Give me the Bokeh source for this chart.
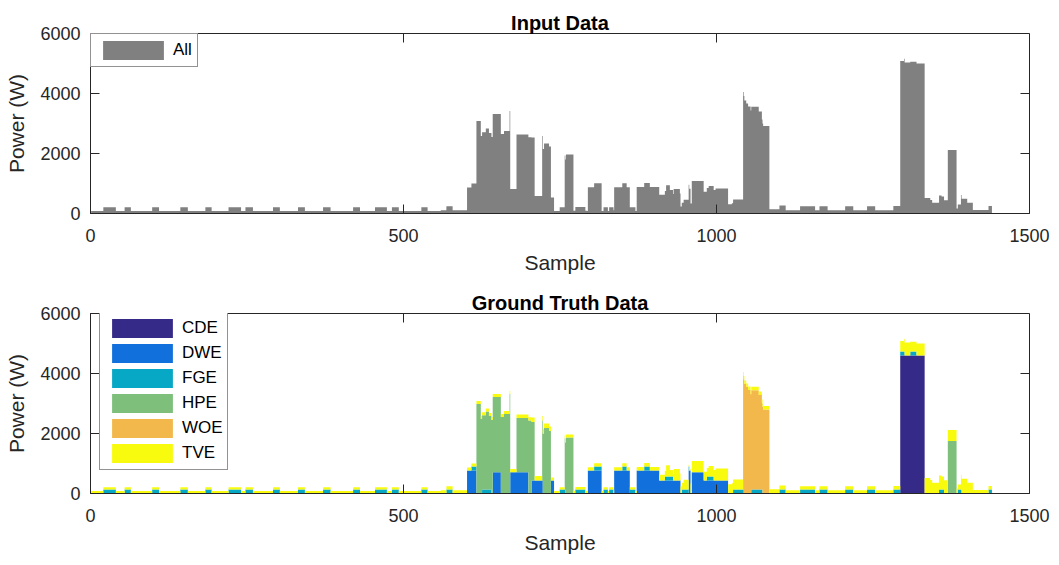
import numpy as np
from bokeh.plotting import figure
from bokeh.layouts import column
from bokeh.models import (ColumnDataSource, Range1d, FixedTicker, Legend, LegendItem,
                          LinearAxis)
from bokeh.transform import stack
from bokeh.embed import file_html
from bokeh.resources import INLINE

N_SAMPLES = 1440
X_TICKS = [0, 500, 1000, 1500]
Y_TICKS = [0, 2000, 4000, 6000]

APPLIANCES = ["CDE", "DWE", "FGE", "HPE", "WOE", "TVE"]
COLORS = ["#352a87", "#1170dc", "#07a7c6", "#7dbf7b", "#f2b84b", "#f9fb0e"]
ALL_COLOR = "#808080"

# Appliance power as runs: (first sample, sample after the last, watts)
cde_segments = [(1294, 1333, 4600)]

dwe_segments = [(602, 617, 766), (643, 656, 710), (671, 700, 710), (705, 723, 433),
                (736, 741, 433), (795, 817, 766), (837, 862, 766), (873, 909, 766),
                (909, 943, 433), (956, 959, 766), (961, 980, 710), (980, 1019, 433)]

fge_segments = [(21, 41, 130), (55, 65, 130), (99, 110, 130), (144, 156, 130),
                (184, 194, 130), (221, 241, 130), (248, 260, 130), (292, 303, 130),
                (332, 343, 130), (372, 384, 130), (420, 431, 130), (455, 474, 130),
                (482, 493, 130), (529, 539, 130), (569, 579, 130), (609, 617, 130),
                (626, 641, 130), (750, 759, 130), (775, 791, 130), (805, 817, 130),
                (820, 827, 130), (829, 836, 130), (850, 857, 130), (862, 871, 130),
                (885, 894, 130), (918, 931, 130), (945, 957, 130), (985, 996, 130),
                (1027, 1044, 130), (1056, 1074, 130), (1101, 1111, 130),
                (1134, 1158, 130), (1165, 1178, 130), (1206, 1219, 130),
                (1241, 1254, 130), (1283, 1301, 130), (1310, 1320, 130),
                (1356, 1364, 130), (1386, 1392, 130), (1435, 1441, 130)]

hpe_segments = [(617, 624, 2980), (624, 632, 2480), (632, 637, 2600), (637, 643, 2450),
                (643, 656, 2510), (656, 661, 2550), (661, 670, 2650), (670, 671, 3320),
                (681, 700, 1810), (700, 705, 2430), (705, 710, 1950), (722, 725, 2000),
                (725, 733, 2180), (733, 736, 2080), (758, 760, 1700), (760, 772, 1870),
                (1370, 1384, 1750)]

woe_segments = [(1043, 1045, 3800), (1045, 1048, 3650), (1048, 1051, 3550),
                (1051, 1055, 3450), (1055, 1068, 3310), (1068, 1073, 3150),
                (1073, 1075, 2880), (1075, 1085, 2800)]

# standby level first, then the periods where the set draws more
tve_segments = [(1, 1441, 80), (560, 602, 110), (602, 617, 100), (617, 671, 100),
                (671, 705, 110), (705, 736, 150), (736, 741, 100), (758, 772, 100),
                (772, 794, 90), (795, 817, 110), (836, 862, 110), (873, 909, 120),
                (909, 920, 190), (920, 926, 380), (926, 932, 220), (932, 942, 380),
                (942, 948, 230), (948, 956, 330), (956, 959, 60), (959, 961, 330),
                (961, 980, 370), (980, 988, 290), (988, 999, 350), (999, 1019, 400),
                (1019, 1025, 310), (1025, 1043, 340), (1043, 1085, 120),
                (1085, 1111, 140), (1111, 1283, 110), (1283, 1294, 120),
                (1294, 1300, 350), (1300, 1310, 430), (1310, 1320, 330),
                (1320, 1333, 400), (1333, 1342, 520), (1342, 1345, 450),
                (1345, 1356, 360), (1356, 1360, 470), (1360, 1370, 440),
                (1370, 1384, 370), (1384, 1391, 170), (1391, 1401, 490),
                (1401, 1410, 360), (1410, 1441, 120)]

SEGMENTS = {"CDE": cde_segments, "DWE": dwe_segments, "FGE": fge_segments,
            "HPE": hpe_segments, "WOE": woe_segments, "TVE": tve_segments}


def expand(segments):
    watts = np.zeros(N_SAMPLES)
    for first, stop, w in segments:
        watts[first - 1:stop - 1] = w
    return watts


samples = np.arange(1, N_SAMPLES + 1)
data = {"x": samples}
for name in APPLIANCES:
    data[name] = expand(SEGMENTS[name])
data["All"] = sum(data[name] for name in APPLIANCES)
source = ColumnDataSource(data)

FONT = "Liberation Sans"
INK = "#262626"
FRAME_W, FRAME_H = 939, 180


def make_axes(p, title, title_gap):
    p.title.text = title
    p.title.align = "center"
    p.title.standoff = 0
    p.title.text_font = FONT
    p.title.text_font_size = "20px"
    p.title.text_font_style = "bold"
    p.title.text_color = "black"
    p.grid.visible = False
    p.outline_line_color = INK
    p.outline_line_width = 1
    xax, yax = p.below[0], p.left[0]
    for ax, ticks in ((xax, X_TICKS), (yax, Y_TICKS)):
        ax.ticker = FixedTicker(ticks=ticks)
        ax.major_tick_in = 9
        ax.major_tick_out = 0
        ax.minor_tick_line_color = None
        ax.axis_line_color = INK
        ax.major_tick_line_color = INK
        ax.major_label_text_font = FONT
        ax.major_label_text_font_size = "18px"
        ax.major_label_text_color = INK
        ax.axis_label_text_font = FONT
        ax.axis_label_text_font_size = "21px"
        ax.axis_label_text_font_style = "normal"
        ax.axis_label_text_color = INK
    xax.axis_label = "Sample"
    xax.major_label_standoff = 15
    xax.axis_label_standoff = 6
    yax.axis_label = "Power (W)"
    yax.major_label_standoff = 10
    yax.axis_label_standoff = 9
    # tickless axis that only keeps a strip free between the title and the box
    p.add_layout(LinearAxis(ticker=FixedTicker(ticks=[]), major_tick_in=0,
                            major_tick_out=title_gap, major_label_standoff=0,
                            axis_line_color=None, major_tick_line_color=INK,
                            minor_tick_line_color=None), "above")
    # inward ticks on the top and right edges of the box
    p.ray(x=X_TICKS, y=[Y_TICKS[-1]] * len(X_TICKS), length=9, length_units="screen",
          angle=-np.pi / 2, line_color=INK, line_width=1)
    p.ray(x=[X_TICKS[-1]] * len(Y_TICKS), y=Y_TICKS, length=9, length_units="screen",
          angle=np.pi, line_color=INK, line_width=1)


def make_legend(p, items, location):
    legend = Legend(items=items, location=location, margin=0, padding=4,
                    spacing=1, glyph_width=76, glyph_height=24, label_height=24,
                    label_standoff=2, label_text_font=FONT,
                    label_text_font_size="17px", label_text_color="black",
                    border_line_color=INK, border_line_width=1,
                    background_fill_color="white", background_fill_alpha=1)
    p.add_layout(legend, "center")


common = dict(x_range=Range1d(0, 1500), y_range=Range1d(0, 6000),
              frame_width=FRAME_W, frame_height=FRAME_H, min_border_left=90,
              min_border_right=30, output_backend="svg", toolbar_location=None)

# each sample is a unit-wide bar; drawn as a centred step area
p1 = figure(min_border_top=33, min_border_bottom=69, **common)
r_all = p1.varea_step(x="x", y1=0, y2="All", step_mode="center", source=source,
                      fill_color=ALL_COLOR)
make_axes(p1, "Input Data", 10)
make_legend(p1, [LegendItem(label="All", renderers=[r_all])], "top_left")

p2 = figure(min_border_top=31, min_border_bottom=72, **common)
stack_renderers = []
for i, name in enumerate(APPLIANCES):
    r = p2.varea_step(x="x", y1=stack(*APPLIANCES[:i]), y2=stack(*APPLIANCES[:i + 1]),
                      step_mode="center", source=source, fill_color=COLORS[i])
    stack_renderers.append(r)
make_axes(p2, "Ground Truth Data", 4)
make_legend(p2, [LegendItem(label=n, renderers=[r])
                 for n, r in zip(APPLIANCES, stack_renderers)], (9, 23))

layout = column(p1, p2, spacing=0)
open("out.html", "w").write(file_html(layout, INLINE))
